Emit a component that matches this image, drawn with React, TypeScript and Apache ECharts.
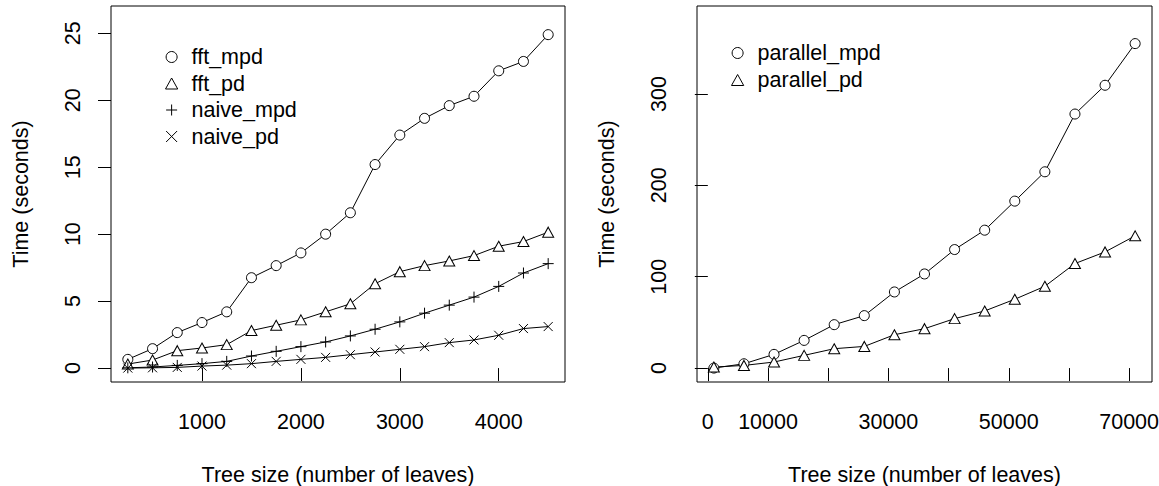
import React, { useEffect, useRef } from "react";
import * as echarts from "echarts";

// ---- data ----
const leftX = [250, 500, 750, 1000, 1250, 1500, 1750, 2000, 2250, 2500, 2750, 3000, 3250, 3500, 3750, 4000, 4250, 4500];
const fftMpd = [0.65, 1.45, 2.65, 3.4, 4.2, 6.75, 7.65, 8.6, 10.0, 11.6, 15.2, 17.4, 18.65, 19.6, 20.3, 22.2, 22.9, 24.9];
const fftPd = [0.3, 0.6, 1.3, 1.5, 1.75, 2.8, 3.2, 3.6, 4.2, 4.8, 6.3, 7.2, 7.65, 8.0, 8.4, 9.1, 9.45, 10.15];
const naiveMpd = [0.02, 0.08, 0.2, 0.33, 0.5, 0.9, 1.25, 1.6, 1.95, 2.4, 2.9, 3.45, 4.1, 4.7, 5.3, 6.1, 7.1, 7.8];
const naivePd = [0.0, 0.02, 0.05, 0.15, 0.22, 0.33, 0.5, 0.65, 0.8, 1.0, 1.2, 1.4, 1.6, 1.9, 2.1, 2.45, 2.95, 3.1];

const rightX = [1000, 6000, 11000, 16000, 21000, 26000, 31000, 36000, 41000, 46000, 51000, 56000, 61000, 66000, 71000];
const parMpd = [0, 4.7, 15, 30.3, 47.5, 57.4, 83.3, 103, 129.7, 150.9, 182.7, 214.8, 278, 309.5, 355.1];
const parPd = [1.1, 2.9, 6.6, 13.9, 21.2, 23.7, 36.5, 43.1, 54.1, 62.5, 75.3, 89.5, 114.4, 127.1, 144.7];

const leftXTicks = [1000, 2000, 3000, 4000];
const leftYTicks = [0, 5, 10, 15, 20, 25];
const rightXTicks = [0, 10000, 20000, 30000, 40000, 50000, 60000, 70000];
const rightXLabels = [0, 10000, 30000, 50000, 70000];
const rightYTicks = [0, 100, 200, 300];

const xTitle = "Tree size (number of leaves)";
const yTitle = "Time (seconds)";

const FONT = "'Liberation Sans', Arial, Helvetica, sans-serif";
const FS = 21.5;
const PLUS = "path://M5,0L5,10M0,5L10,5";
const CROSS = "path://M0,0L10,10M10,0L0,10";
const TRI = "path://M5,0L10,9L0,9Z";

const zip = (xs: number[], ys: number[]) => xs.map((x, i) => [x, ys[i]]);

export default function App() {
  const ref = useRef<HTMLDivElement>(null);
  useEffect(() => {
    if (!ref.current) return;
    const chart = echarts.init(ref.current, null, { renderer: "svg" });

    const symStyle = { color: "#fff", borderColor: "#000", borderWidth: 1 };
    const mkSeries = (name: string, xi: number, data: number[][], symbol: string, size: any) => ({
      name,
      type: "line",
      xAxisIndex: xi,
      yAxisIndex: xi,
      data,
      symbol,
      symbolSize: size,
      showSymbol: true,
      lineStyle: { color: "#000", width: 1 },
      itemStyle: symStyle,
      emphasis: { disabled: true },
      z: 2,
    });

    const fmt = (v: number) => String(v);
    const xAxisBase = (min: number, max: number, ticks: number[], labels: number[], gi: number) => ({
      type: "value",
      gridIndex: gi,
      min,
      max,
      axisLine: { show: false },
      splitLine: { show: false },
      axisTick: { show: true, inside: false, length: 13, customValues: ticks, lineStyle: { color: "#000", width: 1 } },
      axisLabel: { customValues: labels, formatter: fmt, margin: 29, fontSize: FS, color: "#000", fontFamily: FONT, showMinLabel: true, showMaxLabel: true },
      name: xTitle,
      nameLocation: "middle",
      nameGap: 82,
      nameMoveOverlap: false,
      nameTextStyle: { fontSize: FS, color: "#000", fontFamily: FONT },
    });
    const yAxisBase = (min: number, max: number, ticks: number[], gi: number) => ({
      type: "value",
      gridIndex: gi,
      min,
      max,
      axisLine: { show: false },
      splitLine: { show: false },
      axisTick: { show: true, inside: false, length: 13, customValues: ticks, lineStyle: { color: "#000", width: 1 } },
      axisLabel: { customValues: ticks, formatter: fmt, rotate: 90, margin: 27, fontSize: FS, color: "#000", fontFamily: FONT },
      name: yTitle,
      nameLocation: "middle",
      nameRotate: 90,
      nameGap: 79,
      nameMoveOverlap: false,
      nameTextStyle: { fontSize: FS, color: "#000", fontFamily: FONT },
    });

    const legendStyle = (icon: string) => ({ icon, itemStyle: { color: "rgba(0,0,0,0)", borderColor: "#000", borderWidth: 1 } });

    chart.setOption({
      animation: false,
      backgroundColor: "#fff",
      grid: [
        { left: 111, top: 6, width: 454, height: 376, outerBoundsMode: "none", containLabel: false, show: true, borderColor: "#000", borderWidth: 1, backgroundColor: "transparent" },
        { left: 697, top: 6, width: 455, height: 376, outerBoundsMode: "none", containLabel: false, show: true, borderColor: "#000", borderWidth: 1, backgroundColor: "transparent" },
      ],
      xAxis: [
        xAxisBase(80, 4670, leftXTicks, leftXTicks, 0),
        xAxisBase(-1800, 73800, rightXTicks, rightXLabels, 1),
      ],
      yAxis: [
        yAxisBase(-1.04, 27.04, leftYTicks, 0),
        yAxisBase(-15.24, 396.24, rightYTicks, 1),
      ],
      legend: [
        {
          orient: "vertical",
          left: 160,
          top: 41,
          padding: 5,
          itemWidth: 30,
          itemHeight: 11,
          itemGap: 4.5,
          symbolKeepAspect: true,
          textStyle: { fontSize: FS, color: "#000", fontFamily: FONT, lineHeight: 22 },
          selectedMode: false,
          data: [
            { name: "fft_mpd", ...legendStyle("circle") },
            { name: "fft_pd", ...legendStyle(TRI) },
            { name: "naive_mpd", ...legendStyle(PLUS) },
            { name: "naive_pd", ...legendStyle(CROSS) },
          ],
        },
        {
          orient: "vertical",
          left: 726,
          top: 37,
          padding: 5,
          itemWidth: 30,
          itemHeight: 11,
          itemGap: 5,
          symbolKeepAspect: true,
          textStyle: { fontSize: FS, color: "#000", fontFamily: FONT, lineHeight: 22 },
          selectedMode: false,
          data: [
            { name: "parallel_mpd", ...legendStyle("circle") },
            { name: "parallel_pd", ...legendStyle(TRI) },
          ],
        },
      ],
      series: [
        mkSeries("fft_mpd", 0, zip(leftX, fftMpd), "circle", 10),
        mkSeries("fft_pd", 0, zip(leftX, fftPd), "triangle", [11, 10]),
        mkSeries("naive_mpd", 0, zip(leftX, naiveMpd), PLUS, 11),
        mkSeries("naive_pd", 0, zip(leftX, naivePd), CROSS, 9),
        mkSeries("parallel_mpd", 1, zip(rightX, parMpd), "circle", 10),
        mkSeries("parallel_pd", 1, zip(rightX, parPd), "triangle", [11, 10]),
      ],
    });
    return () => chart.dispose();
  }, []);
  return <div ref={ref} style={{ position: "fixed", left: 0, top: 0, width: 1159, height: 486 }} />;
}
